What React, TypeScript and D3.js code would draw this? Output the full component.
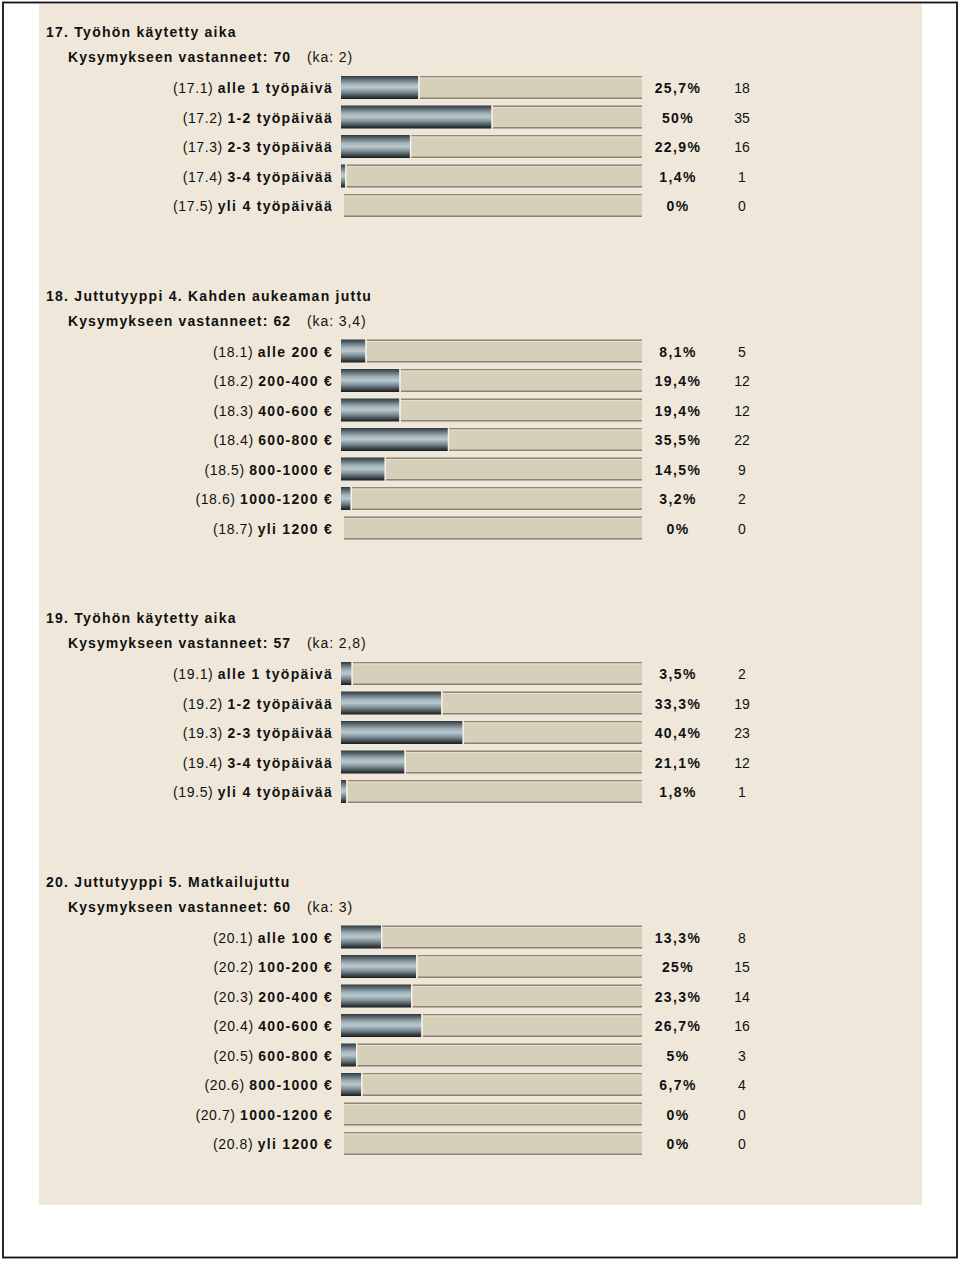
import React from "react";
import * as d3 from "d3";

const q17Title = "17. Työhön käytetty aika";
const q17Answered = 70;
const q17Mean = "2";
const q17Labels = ["alle 1 työpäivä", "1-2 työpäivää", "2-3 työpäivää", "3-4 työpäivää", "yli 4 työpäivää"];
const q17Pct = [25.7, 50, 22.9, 1.4, 0];
const q17Counts = [18, 35, 16, 1, 0];

const q18Title = "18. Juttutyyppi 4. Kahden aukeaman juttu";
const q18Answered = 62;
const q18Mean = "3,4";
const q18Labels = ["alle 200 €", "200-400 €", "400-600 €", "600-800 €", "800-1000 €", "1000-1200 €", "yli 1200 €"];
const q18Pct = [8.1, 19.4, 19.4, 35.5, 14.5, 3.2, 0];
const q18Counts = [5, 12, 12, 22, 9, 2, 0];

const q19Title = "19. Työhön käytetty aika";
const q19Answered = 57;
const q19Mean = "2,8";
const q19Labels = ["alle 1 työpäivä", "1-2 työpäivää", "2-3 työpäivää", "3-4 työpäivää", "yli 4 työpäivää"];
const q19Pct = [3.5, 33.3, 40.4, 21.1, 1.8];
const q19Counts = [2, 19, 23, 12, 1];

const q20Title = "20. Juttutyyppi 5. Matkailujuttu";
const q20Answered = 60;
const q20Mean = "3";
const q20Labels = ["alle 100 €", "100-200 €", "200-400 €", "400-600 €", "600-800 €", "800-1000 €", "1000-1200 €", "yli 1200 €"];
const q20Pct = [13.3, 25, 23.3, 26.7, 5, 6.7, 0, 0];
const q20Counts = [8, 15, 14, 16, 3, 4, 0, 0];

const sections = [
  { num: 17, title: q17Title, answered: q17Answered, mean: q17Mean, labels: q17Labels, pct: q17Pct, counts: q17Counts },
  { num: 18, title: q18Title, answered: q18Answered, mean: q18Mean, labels: q18Labels, pct: q18Pct, counts: q18Counts },
  { num: 19, title: q19Title, answered: q19Answered, mean: q19Mean, labels: q19Labels, pct: q19Pct, counts: q19Counts },
  { num: 20, title: q20Title, answered: q20Answered, mean: q20Mean, labels: q20Labels, pct: q20Pct, counts: q20Counts },
];

const W = 960;
const H = 1261;
const FONT = "'Liberation Sans', Arial, Helvetica, sans-serif";
const FS = 14;
const BAR_X = 341;
const BAR_END = 642;
const BAR_H = 23;
const ROW_STEP = 29.5;

const x = d3.scaleLinear().domain([0, 100]).range([0, 301]);

const fmtPct = (v: number) =>
  (Number.isInteger(v) ? String(v) : d3.format(".1f")(v).replace(".", ",")) + "%";

export default function App() {
  let titleY = 32;
  const blocks: React.ReactNode[] = [];
  sections.forEach((s, si) => {
    const firstRow = titleY + 56;
    const yRow = d3
      .scalePoint<number>()
      .domain(d3.range(s.labels.length))
      .range([firstRow, firstRow + ROW_STEP * (s.labels.length - 1)]);
    blocks.push(
      <g key={si}>
        <text x={46} y={titleY + 5} fontWeight="bold" fontSize={FS} letterSpacing={1.25} fill="#111">
          {s.title}
        </text>
        <text x={68} y={titleY + 25 + 5} fontSize={FS} fill="#111">
          <tspan fontWeight="bold" letterSpacing={1.1}>{`Kysymykseen vastanneet: ${s.answered}`}</tspan>
          <tspan x={307} letterSpacing={0.9}>{`(ka: ${s.mean})`}</tspan>
        </text>
        {s.labels.map((lab, i) => {
          const cy = yRow(i) as number;
          const top = cy - 12;
          const w = x(s.pct[i]);
          const fillEnd = BAR_X + w;
          const trackX = s.pct[i] > 0 ? fillEnd + 1.5 : 344;
          return (
            <g key={i}>
              <text x={333} y={cy + 5} textAnchor="end" fontSize={FS} fill="#111">
                <tspan letterSpacing={0.6}>{`(${s.num}.${i + 1}) `}</tspan>
                <tspan fontWeight="bold" letterSpacing={1.3}>{lab}</tspan>
              </text>
              <rect x={trackX} y={top} width={BAR_END - trackX} height={BAR_H} fill="#D6CFB9" />
              <rect x={trackX} y={top} width={BAR_END - trackX} height={1.5} fill="#8E8875" />
              <rect x={trackX} y={top + 1.5} width={BAR_END - trackX} height={1} fill="#E6E0CE" />
              <rect x={trackX} y={top + BAR_H - 1.5} width={BAR_END - trackX} height={1.5} fill="#8A8470" />
              {s.pct[i] > 0 && (
                <>
                  <rect x={BAR_X} y={top} width={w} height={BAR_H} fill="url(#barGrad)" />
                  <rect x={fillEnd} y={top} width={1} height={BAR_H} fill="#F4F2EC" />
                </>
              )}
              <text x={678} y={cy + 5} textAnchor="middle" fontWeight="bold" fontSize={FS} letterSpacing={1.4} fill="#111">
                {fmtPct(s.pct[i])}
              </text>
              <text x={742} y={cy + 5} textAnchor="middle" fontSize={FS} fill="#111">
                {s.counts[i]}
              </text>
            </g>
          );
        })}
      </g>
    );
    titleY = firstRow + ROW_STEP * (s.labels.length - 1) + 89.5;
  });

  return (
    <svg
      width={W}
      height={H}
      style={{ position: "absolute", left: 0, top: 0, background: "#fff" }}
      fontFamily={FONT}
    >
      <defs>
        <linearGradient id="barGrad" x1="0" y1="0" x2="0" y2="1">
          <stop offset="0" stopColor="#2E373B" />
          <stop offset="0.12" stopColor="#56636A" />
          <stop offset="0.35" stopColor="#A3B3BA" />
          <stop offset="0.5" stopColor="#B9C8CE" />
          <stop offset="0.7" stopColor="#7E8D94" />
          <stop offset="0.88" stopColor="#3E484D" />
          <stop offset="1" stopColor="#161A1C" />
        </linearGradient>
      </defs>
      <rect x={0} y={0} width={W} height={H} fill="#fff" />
      <rect x={39} y={4} width={883} height={1201} fill="#EFE8DA" />
      <rect x={3} y={2.5} width={954} height={1255} fill="none" stroke="#111" strokeWidth={1.8} />
      {blocks}
    </svg>
  );
}
